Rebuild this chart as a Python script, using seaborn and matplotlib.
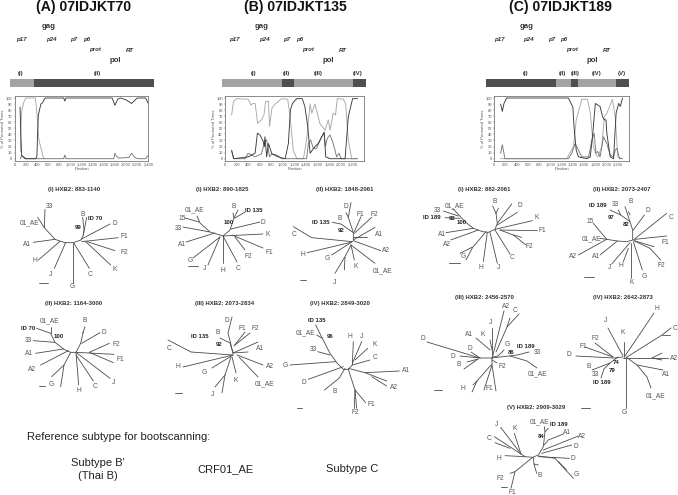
import matplotlib
matplotlib.use("Agg")
import matplotlib.pyplot as plt
import seaborn as sns
import pandas as pd

# bootscan curves, one x list and one y list per subtype
A_DARK_X = [96, 110, 125, 160, 200, 380, 400, 410, 425, 445, 470, 500, 545, 880, 900, 920, 1750, 1800, 1850, 1900, 2000, 2100, 2200, 2350, 2400]
A_DARK_Y = [85, 40, 5, 3, 0, 0, 5, 40, 72, 80, 90, 92, 100, 100, 95, 100, 100, 88, 98, 100, 97, 91, 100, 100, 91]
A_LIGHT_X = [100, 115, 130, 160, 200, 370, 390, 410, 430, 450, 480, 510, 540]
A_LIGHT_Y = [12, 60, 80, 92, 100, 100, 85, 60, 35, 25, 15, 3, 0]
A_MID_X = [100, 125, 150, 180, 880, 900, 920, 1780, 1800, 1830, 1870, 2050, 2100, 2150, 2200, 2350, 2400]
A_MID_Y = [0, 5, 3, 0, 0, 6, 0, 0, 9, 4, 1, 2, 9, 3, 0, 0, 6]

B_LIGHT_X = [115, 145, 200, 400, 450, 478, 520, 565, 630, 674, 700, 750, 770, 810, 865, 980, 1083, 1125, 1180, 1240, 1355, 1410, 1470, 1500, 1555, 1640, 1730, 1785, 1815, 1870, 1910, 1940, 2045, 2085, 2130, 2190, 2290]
B_LIGHT_Y = [72, 94, 99, 98, 88, 91, 91, 58, 64, 72, 94, 95, 53, 83, 90, 99, 98, 69, 14, 0, 0, 31, 90, 75, 90, 58, 47, 64, 47, 75, 72, 99, 98, 90, 31, 0, 0]
B_DARK_X = [115, 150, 400, 520, 560, 605, 663, 680, 690, 720, 750, 810, 920, 1040, 1095, 1130, 1165, 1240, 1335, 1380, 1430, 1470, 1555, 1610, 1715, 1740, 1815, 2075, 2130, 2205, 2290]
B_DARK_Y = [14, 0, 3, 9, 42, 39, 28, 20, 36, 3, 25, 8, 3, 0, 25, 80, 91, 99, 99, 86, 53, 9, 20, 25, 44, 3, 0, 0, 69, 99, 99]
B_MID_X = [115, 150, 350, 400, 460, 520, 630, 690, 720, 770, 810, 895, 980, 1410, 1440, 1480, 1525, 1580, 1670, 1710, 1735, 1760, 1785, 1815, 1870, 1930, 1970, 2005, 2290]
B_MID_Y = [12, 0, 0, 9, 6, 3, 8, 30, 31, 3, 8, 6, 0, 0, 25, 31, 17, 17, 36, 42, 20, 31, 36, 39, 25, 3, 9, 0, 0]

C_DARK_X = [113, 143, 172, 220, 1320, 1400, 1420, 1460, 1500, 1650, 1710, 1755, 1800, 1885, 1930, 1960, 1990, 2005, 2065, 2125, 2170, 2215, 2245, 2285]
C_DARK_Y = [90, 78, 91, 100, 100, 85, 53, 14, 3, 0, 3, 42, 91, 86, 69, 64, 64, 42, 3, 0, 75, 91, 86, 100]
C_LIGHT_X = [113, 160, 1290, 1410, 1460, 1500, 1540, 1560, 1660, 1710, 1765, 1815, 1845, 1915, 1960, 2005, 2055, 2105, 2155, 2200, 2275]
C_LIGHT_Y = [0, 0, 0, 20, 64, 78, 91, 98, 98, 75, 20, 6, 3, 20, 69, 75, 86, 98, 69, 3, 0]
C_MID_X = [113, 143, 190, 1320, 1380, 1440, 1500, 1560, 1680, 1740, 1780, 1810, 1840, 1885, 1945, 2005, 2065, 2125, 2155, 2185, 2230, 2285]
C_MID_Y = [9, 23, 0, 0, 9, 25, 14, 3, 3, 31, 42, 9, 12, 3, 36, 25, 6, 3, 14, 17, 0, 0]

# genome regions under each title: start, width, shade
REGIONS_A = [(10.3, 24, "#a3a3a3"), (34.3, 119.4, "#4f4f4f")]
REGIONS_B = [(222.3, 59.7, "#a3a3a3"), (282, 12, "#4f4f4f"), (294, 59.3, "#a3a3a3"), (353.3, 12.4, "#4f4f4f")]
REGIONS_C = [(485.7, 70.3, "#4f4f4f"), (556, 15, "#a3a3a3"), (571, 7.3, "#4f4f4f"), (578.3, 37.4, "#a3a3a3"), (615.7, 13, "#4f4f4f")]

# gene labels: text, x, y, style, size
GENES_A = [("gag", 49, 26), ("p17", 21, 39), ("p24", 51, 39), ("p7", 74, 39), ("p6", 87, 39), ("prot", 95, 50), ("RT", 130, 50), ("pol", 115, 60)]
GENES_B = [("gag", 262, 26), ("p17", 234, 39), ("p24", 264, 39), ("p7", 287, 39), ("p6", 300, 39), ("prot", 308, 50), ("RT", 343, 50), ("pol", 328, 60)]
GENES_C = [("gag", 527, 26), ("p17", 499, 39), ("p24", 528, 39), ("p7", 552, 39), ("p6", 564, 39), ("prot", 572, 50), ("RT", 607, 50), ("pol", 592, 60)]
ROMANS = [("(I)", 21), ("(II)", 97), ("(I)", 254), ("(II)", 286), ("(III)", 318), ("(IV)", 358),
          ("(I)", 526), ("(II)", 562), ("(III)", 575), ("(IV)", 597), ("(V)", 622)]

TITLES = [("(A) 07IDJKT70", 84), ("(B) 07IDJKT135", 295), ("(C) 07IDJKT189", 560)]
TREE_TITLES = [("(I) HXB2: 883-1140", 74, 190), ("(I) HXB2: 890-1825", 222, 190), ("(II) HXB2: 1848-2061", 345, 190),
               ("(I) HXB2: 882-2061", 484, 190), ("(II) HXB2: 2073-2407", 622, 190),
               ("(II) HXB2: 1164-3000", 74, 303), ("(III) HXB2: 2073-2834", 225, 303), ("(IV) HXB2: 2849-3020", 340, 303),
               ("(III) HXB2: 2456-2570", 484, 298), ("(IV) HXB2: 2642-2873", 623, 298), ("(V) HXB2: 2909-3029", 536, 408)]

# trees: branches are polylines, labels are (text, x, y, bold)
T_A1_ORIGIN = (0, 180)
T_A1_BRANCHES = [
    [(135, 88), (133, 143), (165, 178), (195, 188), (220, 188), (243, 180), (250, 165), (252, 150), (248, 112)],
    [(113, 112), (133, 143)], [(100, 187), (165, 178)], [(115, 240), (180, 184)], [(163, 265), (197, 188)],
    [(218, 310), (218, 188)], [(268, 265), (222, 190)], [(332, 255), (255, 183)], [(345, 212), (262, 185)],
    [(355, 173), (245, 185)], [(330, 132), (243, 178)], [(260, 112), (250, 165)], [(118, 308), (145, 308)]]
T_A1_LABELS = [("33", 147, 80, 0), ("01_AE", 88, 127, 0), ("A1", 82, 192, 0), ("H", 104, 243, 0), ("J", 152, 282, 0),
               ("G", 218, 318, 0), ("C", 271, 282, 0), ("K", 345, 269, 0), ("F2", 372, 218, 0), ("F1", 372, 168, 0),
               ("D", 345, 130, 0), ("B", 247, 104, 0), ("ID 70", 284, 117, 1), ("99", 235, 143, 1)]

T_B1_ORIGIN = (0, 0)
T_B1_BRANCHES = [
    [(185, 218), (199, 222)], [(197, 216), (200, 223), (210, 232), (223, 236), (230, 230), (234, 218), (238, 210)],
    [(183, 227), (210, 232)], [(186, 242), (215, 233)], [(193, 258), (220, 237)], [(208, 265), (220, 237)],
    [(233, 213), (234, 218)], [(245, 212), (235, 218)], [(260, 222), (231, 229)], [(263, 234), (223, 236)],
    [(263, 248), (232, 235)], [(245, 250), (235, 237)], [(237, 262), (223, 236)], [(223, 263), (223, 236)],
    [(188, 266), (198, 266)]]
T_B1_LABELS = [("01_AE", 195, 210, 0), ("15", 182, 218, 0), ("33", 178, 229, 0), ("A1", 182, 244, 0), ("G", 190, 260, 0),
               ("J", 205, 269, 0), ("B", 234, 206, 0), ("ID 135", 254, 210, 1), ("100", 229, 222, 1), ("D", 263, 222, 0),
               ("K", 268, 235, 0), ("F1", 269, 252, 0), ("F2", 248, 256, 0), ("C", 238, 269, 0), ("H", 223, 271, 0)]

T_B2_ORIGIN = (215, 180)
T_B2_BRANCHES = [
    [(352, 127), (378, 132), (415, 158), (415, 182)], [(408, 68), (400, 112), (415, 158)], [(393, 98), (400, 112)],
    [(438, 110), (418, 155)], [(470, 112), (418, 160)], [(480, 142), (415, 180)], [(455, 172), (415, 172)],
    [(497, 212), (415, 182)], [(480, 250), (408, 195)], [(418, 240), (408, 195)], [(360, 280), (390, 230), (408, 195)],
    [(388, 270), (390, 232)], [(350, 225), (412, 185)], [(277, 218), (408, 187)], [(235, 140), (290, 173), (412, 185)],
    [(255, 300), (272, 300)]]
T_B2_LABELS = [("D", 392, 80, 0), ("F1", 437, 102, 0), ("F2", 477, 103, 0), ("B", 373, 116, 0), ("ID 135", 318, 127, 1),
               ("92", 377, 152, 1), ("A1", 491, 163, 0), ("A2", 514, 212, 0), ("C", 238, 165, 0), ("H", 263, 222, 0),
               ("G", 337, 235, 0), ("K", 423, 258, 0), ("01_AE", 504, 272, 0), ("J", 358, 307, 0)]

T_A2_ORIGIN = (0, 310)
T_A2_BRANCHES = [
    [(152, 70), (165, 97), (192, 118), (212, 127), (228, 127), (242, 100), (250, 65), (255, 50)],
    [(110, 55), (152, 70)], [(152, 52), (152, 70)], [(100, 92), (165, 97)], [(107, 130), (190, 117)],
    [(122, 165), (205, 122)], [(155, 200), (192, 165), (212, 127)], [(182, 230), (192, 165)], [(236, 225), (228, 127)],
    [(280, 213), (228, 135)], [(330, 205), (228, 127)], [(340, 158), (268, 127)], [(342, 133), (228, 127)],
    [(328, 100), (268, 127)], [(300, 68), (245, 100)], [(247, 65), (250, 65)], [(117, 227), (135, 227)]]
T_A2_LABELS = [("01_AE", 148, 32, 0), ("ID 70", 85, 55, 1), ("100", 176, 78, 1), ("33", 84, 92, 0), ("A1", 87, 131, 0),
               ("A2", 97, 178, 0), ("G", 155, 225, 0), ("H", 237, 242, 0), ("C", 286, 230, 0), ("J", 342, 217, 0),
               ("F1", 360, 149, 0), ("F2", 349, 103, 0), ("D", 313, 66, 0), ("B", 254, 32, 0)]

T_B3_ORIGIN = (0, 0)
T_B3_BRANCHES = [
    [(168, 340), (191, 352), (233, 355)], [(183, 367), (233, 355)], [(212, 368), (233, 355)],
    [(232, 317), (228, 333), (233, 353)], [(220, 338), (230, 343), (233, 353)], [(245, 332), (234, 346)],
    [(250, 333), (235, 345)], [(258, 342), (233, 353)], [(248, 352), (233, 353)], [(263, 365), (237, 355)],
    [(258, 377), (239, 357)], [(236, 373), (232, 357)], [(231, 357), (225, 375), (222, 393)], [(225, 375), (215, 387)],
    [(175, 393), (182, 393)]]
T_B3_LABELS = [("C", 169, 348, 0), ("H", 178, 367, 0), ("G", 204, 372, 0), ("J", 213, 395, 0), ("ID 135", 200, 336, 1),
               ("B", 218, 333, 0), ("D", 227, 321, 0), ("F1", 242, 328, 0), ("F2", 255, 328, 0), ("92", 219, 344, 1),
               ("A1", 260, 348, 0), ("A2", 270, 366, 0), ("01_AE", 265, 384, 0), ("K", 236, 380, 0)]

T_B4_ORIGIN = (215, 310)
T_B4_BRANCHES = [
    [(302, 45), (322, 85), (345, 130), (365, 158), (385, 178), (400, 178), (412, 165), (415, 95)],
    [(305, 75), (322, 85)], [(308, 125), (345, 135)], [(225, 165), (362, 155)], [(280, 208), (385, 170)],
    [(328, 240), (372, 205), (390, 175)], [(440, 95), (412, 160)], [(458, 115), (420, 150)], [(465, 150), (412, 165)],
    [(553, 183), (450, 188), (400, 175)], [(515, 213), (450, 188)], [(515, 228), (470, 200)],
    [(400, 178), (420, 240), (452, 278)], [(420, 240), (425, 295)], [(420, 240), (418, 295)], [(245, 293), (262, 293)]]
T_B4_LABELS = [("ID 135", 305, 30, 1), ("01_AE", 272, 68, 0), ("96", 345, 81, 1), ("33", 294, 118, 0), ("H", 405, 81, 0),
               ("J", 440, 81, 0), ("K", 479, 105, 0), ("C", 480, 143, 0), ("G", 212, 166, 0), ("D", 266, 218, 0),
               ("B", 358, 244, 0), ("A1", 572, 181, 0), ("A2", 536, 232, 0), ("F1", 470, 283, 0), ("F2", 421, 307, 0)]

T_C1_ORIGIN = (410, 180)
T_C1_BRANCHES = [
    [(128, 85), (142, 100), (165, 125), (190, 145), (218, 155), (235, 157), (255, 148), (262, 130), (258, 100), (248, 78)],
    [(100, 93), (145, 108)], [(105, 113), (150, 115)], [(108, 158), (190, 145)], [(122, 180), (205, 150)],
    [(150, 220), (190, 200), (228, 155)], [(168, 240), (188, 202)], [(220, 245), (232, 157)], [(262, 250), (240, 157)],
    [(300, 222), (255, 150)], [(348, 195), (310, 165), (270, 150)], [(382, 152), (270, 150)], [(335, 172), (310, 165)],
    [(367, 122), (255, 148)], [(305, 72), (262, 130)], [(322, 97), (262, 135)], [(265, 85), (258, 100)],
    [(118, 250), (150, 250)]]
T_C1_LABELS = [("33", 83, 90, 0), ("01_AE", 135, 76, 0), ("ID 189", 66, 113, 1), ("93", 125, 115, 1), ("100", 155, 128, 1),
               ("B", 254, 64, 0), ("D", 330, 76, 0), ("K", 380, 113, 0), ("F1", 398, 152, 0), ("F2", 359, 201, 0),
               ("C", 305, 232, 0), ("J", 266, 263, 0), ("H", 214, 263, 0), ("G", 161, 228, 0), ("A1", 97, 163, 0), ("A2", 110, 192, 0)]

T_C2_ORIGIN = (410, 180)
T_C2_BRANCHES = [
    [(600, 90), (632, 105), (660, 125), (668, 150), (668, 180), (650, 185), (622, 183), (590, 178), (550, 130)],
    [(625, 90), (632, 105)], [(645, 80), (660, 125)], [(655, 95), (660, 105)], [(703, 105), (670, 150)],
    [(770, 100), (670, 180)], [(570, 175), (590, 178)], [(505, 225), (590, 178)], [(570, 225), (622, 183)],
    [(770, 168), (675, 178)], [(732, 200), (672, 182)], [(752, 240), (720, 205), (672, 182)], [(697, 270), (670, 185)],
    [(663, 295), (663, 190)], [(640, 245), (655, 205)], [(605, 252), (660, 188)], [(522, 290), (552, 290)]]
T_C2_LABELS = [("ID 189", 564, 77, 1), ("33", 617, 75, 0), ("B", 661, 64, 0), ("D", 714, 93, 0), ("C", 782, 113, 0),
               ("97", 603, 113, 1), ("82", 648, 135, 1), ("15", 540, 125, 0), ("01_AE", 544, 175, 0), ("F1", 767, 188, 0),
               ("F2", 755, 257, 0), ("G", 703, 288, 0), ("K", 666, 307, 0), ("H", 633, 257, 0), ("J", 598, 263, 0),
               ("A1", 558, 228, 0), ("A2", 490, 228, 0)]

T_C3_ORIGIN = (0, 0)
T_C3_BRANCHES = [
    [(427, 342), (480, 358), (492, 358)], [(460, 356), (480, 358)], [(471, 352), (480, 358)],
    [(464, 369), (478, 359)], [(467, 362), (478, 359)], [(492, 328), (492, 358)], [(504, 311), (493, 355)],
    [(519, 314), (507, 327), (496, 352)], [(510, 318), (507, 327)], [(490, 340), (492, 350)], [(476, 338), (490, 350)],
    [(504, 350), (498, 356), (492, 357)], [(529, 352), (517, 355), (492, 358)], [(537, 368), (527, 361), (510, 356)],
    [(497, 363), (492, 360)], [(496, 391), (492, 365), (492, 358)], [(484, 390), (492, 365)],
    [(472, 392), (477, 381), (491, 365)], [(473, 385), (477, 381)], [(434, 390), (442, 390)]]
T_C3_LABELS = [("A2", 506, 307, 0), ("C", 515, 311, 0), ("J", 491, 322, 0), ("A1", 469, 334, 0), ("K", 483, 334, 0),
               ("G", 507, 345, 0), ("ID 189", 526, 346, 1), ("33", 537, 353, 0), ("86", 511, 353, 1), ("D", 453, 357, 0),
               ("D", 470, 349, 0), ("B", 459, 364, 0), ("D", 423, 339, 0), ("F2", 502, 367, 0), ("01_AE", 538, 374, 0),
               ("H", 463, 389, 0), ("F1", 489, 388, 0)]

T_C4_ORIGIN = (0, 0)
T_C4_BRANCHES = [
    [(654, 313), (625, 356)], [(671, 328), (662, 335), (627, 357)], [(670, 335), (662, 335)], [(624, 342), (624, 357)],
    [(608, 328), (623, 356)], [(595, 343), (613, 357)], [(585, 347), (613, 357)], [(576, 356), (614, 358), (623, 357)],
    [(592, 370), (610, 363), (618, 357)], [(601, 378), (604, 369), (610, 363)], [(668, 358), (623, 358)],
    [(662, 353), (652, 358)], [(662, 360), (652, 358)], [(663, 370), (637, 365), (626, 357)],
    [(651, 388), (647, 377), (637, 365)], [(626, 408), (626, 357)], [(581, 408), (590, 408)]]
T_C4_LABELS = [("H", 657, 308, 0), ("C", 675, 329, 0), ("J", 606, 321, 0), ("K", 623, 333, 0), ("F2", 595, 338, 0),
               ("F1", 583, 346, 0), ("D", 569, 354, 0), ("A2", 674, 358, 0), ("A1", 666, 375, 0), ("01_AE", 656, 396, 0),
               ("G", 624, 413, 0), ("74", 616, 363, 1), ("79", 612, 371, 1), ("B", 589, 367, 0), ("33", 595, 375, 0),
               ("ID 189", 602, 383, 1)]

T_C5_ORIGIN = (410, 310)
T_C5_BRANCHES = [
    [(403, 350), (405, 365), (400, 410), (385, 435), (368, 442), (345, 440), (333, 432), (272, 352)],
    [(415, 355), (405, 365)], [(460, 372), (415, 390), (402, 405)], [(505, 378), (400, 420)], [(485, 405), (395, 430)],
    [(478, 445), (385, 440)], [(490, 505), (435, 445), (385, 438)], [(470, 480), (445, 455)],
    [(380, 490), (372, 462), (370, 442)], [(385, 465), (372, 462)], [(303, 535), (315, 485), (368, 442)],
    [(300, 490), (315, 485)], [(285, 437), (345, 440)], [(253, 380), (333, 432)], [(255, 398), (300, 415)],
    [(313, 370), (333, 432)], [(272, 532), (290, 532)]]
T_C5_LABELS = [("01_AE", 388, 335, 0), ("ID 189", 447, 345, 1), ("84", 392, 380, 1), ("A1", 471, 368, 0), ("A2", 516, 381, 0),
               ("D", 497, 410, 0), ("D", 490, 447, 0), ("G", 498, 495, 0), ("B", 388, 497, 0), ("F2", 270, 507, 0),
               ("F1", 307, 547, 0), ("H", 267, 447, 0), ("C", 237, 384, 0), ("J", 260, 345, 0), ("K", 313, 355, 0)]

TREES = [(T_A1_ORIGIN, T_A1_BRANCHES, T_A1_LABELS), (T_B1_ORIGIN, T_B1_BRANCHES, T_B1_LABELS),
         (T_B2_ORIGIN, T_B2_BRANCHES, T_B2_LABELS), (T_A2_ORIGIN, T_A2_BRANCHES, T_A2_LABELS),
         (T_B3_ORIGIN, T_B3_BRANCHES, T_B3_LABELS), (T_B4_ORIGIN, T_B4_BRANCHES, T_B4_LABELS),
         (T_C1_ORIGIN, T_C1_BRANCHES, T_C1_LABELS), (T_C2_ORIGIN, T_C2_BRANCHES, T_C2_LABELS),
         (T_C3_ORIGIN, T_C3_BRANCHES, T_C3_LABELS), (T_C4_ORIGIN, T_C4_BRANCHES, T_C4_LABELS),
         (T_C5_ORIGIN, T_C5_BRANCHES, T_C5_LABELS)]

W, H = 678, 495
sns.set_theme(style="white")
plt.rcParams['font.family'] = ['Liberation Sans', 'DejaVu Sans']

fig = plt.figure(figsize=(W / 100, H / 100), dpi=100)
page = fig.add_axes([0, 0, 1, 1])
page.set_xlim(0, W)
page.set_ylim(H, 0)
page.axis("off")


def draw_tree(origin, branches, labels):
    scale = 1 if origin == (0, 0) else 3
    rows = []
    for i, branch in enumerate(branches):
        for x, y in branch:
            rows.append({"x": origin[0] + x / scale, "y": origin[1] + y / scale, "branch": i})
    sns.lineplot(data=pd.DataFrame(rows), x="x", y="y", units="branch", estimator=None, sort=False,
                 color="#4a4a4a", linewidth=0.6, legend=False, ax=page)
    for text, x, y, bold in labels:
        page.text(origin[0] + x / scale, origin[1] + y / scale, text, ha="center", va="center",
                  fontsize=4.3 if bold else 4.8, fontweight="bold" if bold else "normal",
                  color="#222222" if bold else "#555555")


def draw_boot(left, right, xmax, curves):
    top, bottom = 96, 160.7
    ax = fig.add_axes([left / W, 1 - bottom / H, (right - left) / W, (bottom - top) / H])
    for xs, ys, col in curves:
        sns.lineplot(x=xs, y=ys, color=col, linewidth=0.65, estimator=None, sort=False, ax=ax)
    ax.set_xlim(0, xmax)
    ax.set_ylim(-3.3, 103.3)
    ax.set_xticks(list(range(0, 2401, 200)) if xmax == 2400 and left < 100 else list(range(0, 2201, 200)))
    ax.set_xticklabels([f"{v:,}" for v in ax.get_xticks()], color="#555555")
    ax.set_yticks(range(0, 101, 10))
    ax.tick_params(length=1, width=0.3, labelsize=2.9, pad=0.6, colors="#555555", bottom=True, left=True)
    ax.set_xlabel("Position", fontsize=3, labelpad=0.3, color="#555555")
    ax.set_ylabel("% of Permuted Trees", fontsize=3, labelpad=0.5, color="#555555")
    for sp in ax.spines.values():
        sp.set_linewidth(0.6)
        sp.set_color("#777777")


for text, x in TITLES:
    page.text(x, 6.5, text, ha="center", va="center", fontsize=10.1, fontweight="bold", color="#111111")

for genes in (GENES_A, GENES_B, GENES_C):
    for text, x, y in genes:
        if text in ("gag", "pol"):
            page.text(x, y, text, ha="center", va="center", fontsize=5.6, fontweight="bold", color="#333333")
        else:
            page.text(x, y, text, ha="center", va="center", fontsize=4.4, fontstyle="italic", fontweight="bold", color="#333333")

for text, x in ROMANS:
    page.text(x, 73, text, ha="center", va="center", fontsize=4.4, fontweight="bold", color="#333333")

for regions in (REGIONS_A, REGIONS_B, REGIONS_C):
    for start, width, shade in regions:
        page.broken_barh([(start, width)], (78.7, 8.3), facecolors=shade, edgecolor=shade, linewidth=0)

draw_boot(14.7, 148.3, 2400, [(A_LIGHT_X, A_LIGHT_Y, "#a8a8a8"), (A_MID_X, A_MID_Y, "#777777"), (A_DARK_X, A_DARK_Y, "#3a3a3a")])
draw_boot(225, 364.3, 2407, [(B_LIGHT_X, B_LIGHT_Y, "#a8a8a8"), (B_MID_X, B_MID_Y, "#777777"), (B_DARK_X, B_DARK_Y, "#3a3a3a")])
draw_boot(494.3, 629, 2400, [(C_LIGHT_X, C_LIGHT_Y, "#a8a8a8"), (C_MID_X, C_MID_Y, "#777777"), (C_DARK_X, C_DARK_Y, "#3a3a3a")])

for origin, branches, labels in TREES:
    draw_tree(origin, branches, labels)
page.set_xlim(0, W)
page.set_ylim(H, 0)
page.set_xlabel("")
page.set_ylabel("")

for text, x, y in TREE_TITLES:
    page.text(x, y, text, ha="center", va="center", fontsize=4.3, fontweight="bold", color="#333333")

page.text(119, 437, "Reference subtype for bootscanning:", ha="center", va="center", fontsize=8, color="#222222")
page.text(98, 463, "Subtype B'", ha="center", va="center", fontsize=8, color="#222222")
page.text(98, 476, "(Thai B)", ha="center", va="center", fontsize=8, color="#222222")
page.text(225, 469, "CRF01_AE", ha="center", va="center", fontsize=8, color="#222222")
page.text(352, 469, "Subtype C", ha="center", va="center", fontsize=8, color="#222222")

fig.savefig("out.png", dpi=100)
